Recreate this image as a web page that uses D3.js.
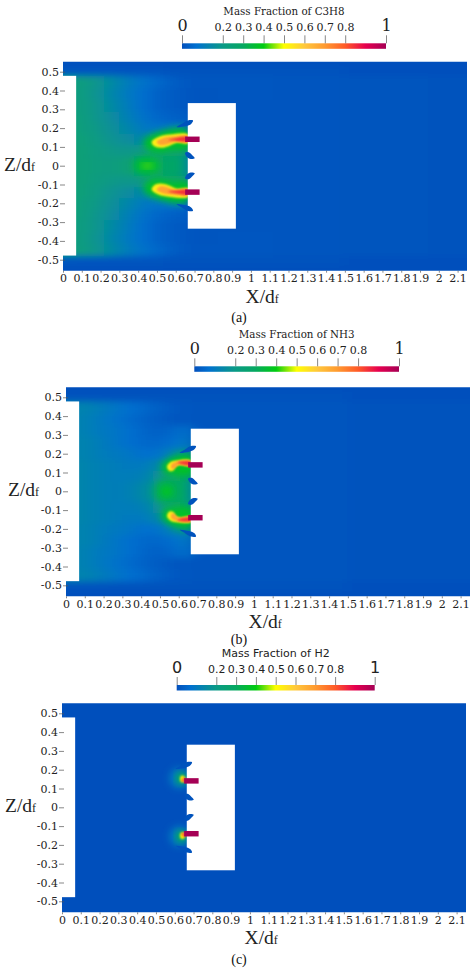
<!DOCTYPE html>
<html>
<head>
<meta charset="utf-8">
<script src="https://cdn.jsdelivr.net/npm/d3@7"></script>
<style>
  body { margin: 0; background: #fff; }
  svg { display: block; }
</style>
</head>
<body>
<div id="chart"></div>
<script>
//////// DATA ////////

var xTicks = [0, 0.1, 0.2, 0.3, 0.4, 0.5, 0.6, 0.7, 0.8, 0.9, 1, 1.1, 1.2, 1.3, 1.4, 1.5, 1.6, 1.7, 1.8, 1.9, 2, 2.1];
var zTicks = [0.5, 0.4, 0.3, 0.2, 0.1, 0, -0.1, -0.2, -0.3, -0.4, -0.5];
var barTicks = [0, 0.2, 0.3, 0.4, 0.5, 0.6, 0.7, 0.8, 1];

var colorValues = [0, 0.07, 0.2, 0.3, 0.4, 0.5, 0.6, 0.7, 0.8, 0.9, 1];
var colorNames = ["#0450bc", "#0070d0", "#0a9a86", "#06a860", "#00cc10", "#ffff00", "#ffc83c", "#ff9a30", "#ff5a28", "#e6004f", "#a50055"];

// field stations, upper half only, the lower half is a mirror of it
var fieldX = [0.05, 0.1, 0.18, 0.26, 0.34, 0.42, 0.5, 0.58, 0.64, 0.7, 0.95, 1.3, 1.7, 2.2];
var fieldZ = [0.55, 0.51, 0.446, 0.38, 0.32, 0.26, 0.2, 0.14, 0.08, 0.02];

var fieldA = [
  [0, 0, 0, 0, 0, 0, 0, 0, 0, 0, 0, 0, 0, 0],
  [0.01, 0.01, 0.01, 0.01, 0.01, 0.01, 0.01, 0.005, 0.005, 0.005, 0.005, 0.005, 0, 0],
  [0.23, 0.22, 0.19, 0.15, 0.11, 0.08, 0.05, 0.03, 0.02, 0.015, 0.015, 0.012, 0.008, 0.005],
  [0.23, 0.22, 0.18, 0.14, 0.1, 0.07, 0.04, 0.025, 0.02, 0.012, 0.015, 0.012, 0.008, 0.005],
  [0.23, 0.22, 0.19, 0.15, 0.11, 0.07, 0.04, 0.025, 0.02, 0.012, 0.012, 0.01, 0.008, 0.005],
  [0.24, 0.23, 0.19, 0.16, 0.12, 0.08, 0.05, 0.035, 0.03, 0.012, 0.012, 0.01, 0.008, 0.005],
  [0.24, 0.23, 0.2, 0.17, 0.14, 0.1, 0.08, 0.08, 0.07, 0.012, 0.012, 0.01, 0.008, 0.005],
  [0.24, 0.24, 0.21, 0.18, 0.16, 0.14, 0.16, 0.2, 0.22, 0.012, 0.012, 0.01, 0.008, 0.005],
  [0.25, 0.24, 0.22, 0.2, 0.19, 0.21, 0.24, 0.26, 0.27, 0.012, 0.012, 0.01, 0.008, 0.005],
  [0.25, 0.24, 0.23, 0.22, 0.24, 0.3, 0.27, 0.29, 0.3, 0.012, 0.012, 0.01, 0.008, 0.005]
];

var fieldB = [
  [0, 0, 0, 0, 0, 0, 0, 0, 0, 0, 0, 0, 0, 0],
  [0.005, 0.005, 0.005, 0.005, 0.005, 0.005, 0.005, 0.005, 0.005, 0.005, 0.005, 0.005, 0, 0],
  [0.13, 0.13, 0.11, 0.09, 0.07, 0.05, 0.03, 0.02, 0.015, 0.01, 0.01, 0.01, 0.005, 0.005],
  [0.13, 0.12, 0.1, 0.08, 0.06, 0.04, 0.025, 0.015, 0.015, 0.01, 0.01, 0.01, 0.005, 0.005],
  [0.13, 0.12, 0.1, 0.09, 0.07, 0.045, 0.035, 0.05, 0.08, 0.01, 0.01, 0.01, 0.005, 0.005],
  [0.13, 0.13, 0.11, 0.09, 0.07, 0.05, 0.05, 0.07, 0.1, 0.01, 0.01, 0.01, 0.005, 0.005],
  [0.13, 0.13, 0.11, 0.1, 0.09, 0.07, 0.08, 0.14, 0.18, 0.01, 0.01, 0.01, 0.005, 0.005],
  [0.14, 0.13, 0.12, 0.11, 0.1, 0.1, 0.15, 0.25, 0.3, 0.01, 0.01, 0.01, 0.005, 0.005],
  [0.14, 0.13, 0.12, 0.11, 0.11, 0.12, 0.19, 0.28, 0.32, 0.01, 0.01, 0.01, 0.005, 0.005],
  [0.14, 0.13, 0.12, 0.11, 0.12, 0.15, 0.22, 0.29, 0.32, 0.01, 0.01, 0.01, 0.005, 0.005]
];

var fieldC = [
  [0, 0, 0, 0, 0, 0, 0, 0, 0, 0, 0, 0, 0, 0],
  [0, 0, 0, 0, 0, 0, 0, 0, 0, 0, 0, 0, 0, 0],
  [0, 0, 0, 0, 0, 0, 0, 0, 0, 0, 0, 0, 0, 0],
  [0, 0, 0, 0, 0, 0, 0, 0, 0, 0, 0, 0, 0, 0],
  [0, 0, 0, 0, 0, 0, 0, 0, 0, 0, 0, 0, 0, 0],
  [0, 0, 0, 0, 0, 0, 0, 0, 0, 0, 0, 0, 0, 0],
  [0, 0, 0, 0, 0, 0, 0, 0, 0, 0, 0, 0, 0, 0],
  [0, 0, 0, 0, 0, 0, 0, 0, 0, 0, 0, 0, 0, 0],
  [0, 0, 0, 0, 0, 0, 0, 0, 0, 0, 0, 0, 0, 0],
  [0, 0, 0, 0, 0, 0, 0, 0, 0, 0, 0, 0, 0, 0]
];

// contour outlines of the upper plume as [x, z], lower one is mirrored
var plumeValuesA = [0.37, 0.53, 0.68, 0.84];
var plumeShapesA = [
  [[0.428, 0.128], [0.499, 0.175], [0.658, 0.195], [0.67, 0.085], [0.587, 0.085], [0.516, 0.068], [0.454, 0.082]],
  [[0.472, 0.128], [0.507, 0.153], [0.57, 0.166], [0.665, 0.166], [0.667, 0.12], [0.605, 0.122], [0.561, 0.104], [0.516, 0.095], [0.482, 0.106]],
  [[0.498, 0.128], [0.534, 0.148], [0.596, 0.156], [0.665, 0.156], [0.665, 0.128], [0.596, 0.128], [0.552, 0.113], [0.516, 0.11]],
  [[0.561, 0.137], [0.605, 0.148], [0.665, 0.152], [0.665, 0.13], [0.605, 0.132]]
];
var plumeValuesB = [0.37, 0.53, 0.68, 0.84];
var plumeShapesB = [
  [[0.51, 0.132], [0.554, 0.176], [0.664, 0.194], [0.67, 0.088], [0.572, 0.088], [0.527, 0.097]],
  [[0.537, 0.132], [0.554, 0.155], [0.589, 0.164], [0.664, 0.164], [0.664, 0.134], [0.607, 0.14], [0.582, 0.132], [0.572, 0.11], [0.55, 0.108]],
  [[0.56, 0.143], [0.58, 0.155], [0.664, 0.159], [0.664, 0.137], [0.598, 0.14], [0.58, 0.122], [0.563, 0.118]],
  [[0.592, 0.154], [0.664, 0.158], [0.664, 0.14], [0.616, 0.144]]
];
var plumeValuesC = [];
var plumeShapesC = [];

// round spots as [x, z, radius x, radius z, value, mirrored]
var spotsA = [[0.449, 0, 0.07, 0.045, 0.36, 0], [0.449, 0, 0.027, 0.012, 0.44, 0]];
var spotsB = [[0.536, 0, 0.07, 0.065, 0.31, 0], [0.536, 0, 0.032, 0.032, 0.38, 0]];
var spotsC = [
  [0.625, 0.155, 0.055, 0.055, 0.1, 1],
  [0.635, 0.155, 0.026, 0.03, 0.33, 1],
  [0.641, 0.151, 0.013, 0.018, 0.5, 1],
  [0.65, 0.145, 0.014, 0.012, 0.78, 1]
];

var inletX = [0.65, 0.727];
var inletZ = [0.126, 0.155];
var duct = { x: [0, 0.07], z: [-0.478, 0.478] };
var block = { x: [0.664, 0.92], z: [-0.335, 0.333] };

var finShapes = [
  [[0.605, 0.205], [0.635, 0.224], [0.665, 0.241], [0.692, 0.24], [0.682, 0.222], [0.655, 0.211]],
  [[0.65, 0.068], [0.668, 0.072], [0.692, 0.052], [0.701, 0.04], [0.68, 0.036], [0.658, 0.048]]
];

//////// DRAWING ////////

var svg = d3.select("#chart").append("svg").attr("width", 474).attr("height", 971);
var defs = svg.append("defs");

function addBlur(id, amount) {
  defs.append("filter").attr("id", id)
    .attr("x", "-30%").attr("y", "-30%").attr("width", "160%").attr("height", "160%")
    .append("feGaussianBlur").attr("stdDeviation", amount);
}
addBlur("blurField", "8 3");
addBlur("blurHalo", 3.5);
addBlur("blurCore", 0.8);
addBlur("blurEdge", 0.4);

var colorScale = d3.scaleLinear().domain(colorValues).range(colorNames).clamp(true);

var gradient = defs.append("linearGradient").attr("id", "barGradient");
colorValues.forEach(function (v, i) {
  gradient.append("stop").attr("offset", v).attr("stop-color", colorNames[i]);
});

function drawPanel(p) {
  var xScale = d3.scaleLinear().domain([0, 2.15]).range([p.x0, p.x0 + 404]);
  var zScale = d3.scaleLinear().domain([0.5, -0.5]).range([p.z0 - 94, p.z0 + 94]);
  var top = p.z0 - 104, bottom = p.z0 + 105;
  var g = svg.append("g");

  defs.append("clipPath").attr("id", "clip" + p.id).append("rect")
    .attr("x", p.x0).attr("y", top)
    .attr("width", 404).attr("height", bottom - top);

  var plot = g.append("g").attr("clip-path", "url(#clip" + p.id + ")");

  // background field, mirrored about z = 0
  var fieldG = plot.append("g").attr("filter", "url(#blurField)");
  fieldG.append("rect").attr("x", p.x0 - 40).attr("y", top - 40)
    .attr("width", 484).attr("height", bottom - top + 80).attr("fill", colorScale(0));
  [1, -1].forEach(function (sign) {
    p.field.forEach(function (row, j) {
      var zHi = j === 0 ? 0.7 : (fieldZ[j] + fieldZ[j - 1]) / 2;
      var zLo = j === fieldZ.length - 1 ? 0 : (fieldZ[j] + fieldZ[j + 1]) / 2;
      row.forEach(function (v, i) {
        var xLo = i === 0 ? -0.2 : (fieldX[i] + fieldX[i - 1]) / 2;
        var xHi = i === fieldX.length - 1 ? 2.4 : (fieldX[i] + fieldX[i + 1]) / 2;
        var y1 = zScale(sign * zHi), y2 = zScale(sign * zLo);
        fieldG.append("rect")
          .attr("x", xScale(xLo))
          .attr("y", Math.min(y1, y2))
          .attr("width", xScale(xHi) - xScale(xLo))
          .attr("height", Math.abs(y2 - y1) + 0.5)
          .attr("fill", colorScale(v));
      });
    });
  });

  var outline = d3.line()
    .x(function (d) { return xScale(d[0]); })
    .y(function (d) { return zScale(d[1]); })
    .curve(d3.curveCatmullRomClosed);

  // spots
  p.spots.forEach(function (s) {
    (s[5] ? [1, -1] : [1]).forEach(function (sign) {
      plot.append("ellipse")
        .attr("cx", xScale(s[0])).attr("cy", zScale(sign * s[1]))
        .attr("rx", xScale(s[2]) - xScale(0))
        .attr("ry", zScale(0) - zScale(s[3]))
        .attr("fill", colorScale(s[4]))
        .attr("filter", s[2] > 0.02 ? "url(#blurHalo)" : "url(#blurCore)");
    });
  });

  // plume contours
  p.shapes.forEach(function (shape, k) {
    [1, -1].forEach(function (sign) {
      plot.append("path")
        .attr("d", outline(shape.map(function (d) { return [d[0], sign * d[1]]; })))
        .attr("fill", colorScale(p.values[k]))
        .attr("filter", k === 0 ? "url(#blurHalo)" : "url(#blurCore)");
    });
  });

  // white cut-outs
  [duct, block].forEach(function (b) {
    plot.append("rect")
      .attr("x", xScale(b.x[0])).attr("y", zScale(b.z[1]))
      .attr("width", xScale(b.x[1]) - xScale(b.x[0]))
      .attr("height", zScale(b.z[0]) - zScale(b.z[1]))
      .attr("fill", "#fff");
  });

  // fins and fuel inlets sit on top of the block
  [1, -1].forEach(function (sign) {
    finShapes.forEach(function (shape) {
      plot.append("path")
        .attr("d", outline(shape.map(function (d) { return [d[0], sign * d[1]]; })))
        .attr("fill", colorScale(0.005))
        .attr("filter", "url(#blurEdge)");
    });
    var y1 = zScale(sign * inletZ[0]), y2 = zScale(sign * inletZ[1]);
    plot.append("rect")
      .attr("x", xScale(inletX[0])).attr("y", Math.min(y1, y2))
      .attr("width", xScale(inletX[1]) - xScale(inletX[0]))
      .attr("height", Math.abs(y2 - y1))
      .attr("fill", colorScale(1))
      .attr("filter", "url(#blurEdge)");
  });

  // axes
  var xAxis = g.append("g").attr("transform", "translate(0," + bottom + ")")
    .call(d3.axisBottom(xScale).tickValues(xTicks).tickSize(2).tickPadding(2).tickFormat(String));
  var zAxis = g.append("g").attr("transform", "translate(" + (p.x0 + 2) + ",0)")
    .call(d3.axisLeft(zScale).tickValues(zTicks).tickSize(5).tickPadding(1).tickFormat(String));
  [xAxis, zAxis].forEach(function (a) {
    a.select(".domain").remove();
    a.selectAll("line").attr("stroke", "#555").attr("stroke-width", 0.7);
    a.selectAll("text").attr("font-family", "DejaVu Serif").attr("font-size", 11).attr("fill", "#222");
  });

  // axis titles
  function axisTitle(letter, x, y, anchor) {
    var t = g.append("text").attr("x", x).attr("y", y).attr("text-anchor", anchor)
      .attr("font-family", "Liberation Serif").attr("font-size", 19.5).attr("fill", "#222");
    t.append("tspan").text(letter + "/d");
    t.append("tspan").attr("font-size", 12).text("f");
  }
  axisTitle("X", xScale(1.06), bottom + 32, "middle");
  axisTitle("Z", p.zTitleX, p.z0 + 5, "start");

  // colour bar
  var barScale = d3.scaleLinear().domain([0, 1]).range(p.bar);
  g.append("rect")
    .attr("x", p.bar[0]).attr("y", p.barY)
    .attr("width", p.bar[1] - p.bar[0]).attr("height", 5.5)
    .attr("fill", "url(#barGradient)");
  var barAxis = g.append("g").attr("transform", "translate(0," + p.barY + ")")
    .call(d3.axisTop(barScale).tickValues(barTicks).tickSize(8).tickPadding(4).tickFormat(String));
  barAxis.select(".domain").remove();
  barAxis.selectAll("line").attr("stroke", "#555").attr("stroke-width", 0.7);
  barAxis.selectAll("text")
    .attr("font-family", p.barFont)
    .attr("font-size", function (d) { return d === 0 || d === 1 ? 16 : 11; })
    .attr("fill", "#222");

  g.append("text")
    .attr("x", (p.bar[0] + p.bar[1]) / 2).attr("y", p.barY - 28)
    .attr("text-anchor", "middle")
    .attr("font-family", p.barFont).attr("font-size", p.titleSize).attr("fill", "#222")
    .text(p.title);

  g.append("text")
    .attr("x", 239).attr("y", p.captionY).attr("text-anchor", "middle")
    .attr("font-family", "Liberation Serif").attr("font-size", 14).attr("fill", "#111")
    .text(p.caption);
}

drawPanel({
  id: "A", x0: 63, z0: 165.7, field: fieldA, shapes: plumeShapesA, values: plumeValuesA, spots: spotsA,
  bar: [182, 386], barY: 43.3, barFont: "DejaVu Serif", titleSize: 10.3, title: "Mass Fraction of C3H8",
  caption: "(a)", captionY: 322, zTitleX: 4
});
drawPanel({
  id: "B", x0: 66, z0: 491.3, field: fieldB, shapes: plumeShapesB, values: plumeValuesB, spots: spotsB,
  bar: [194.3, 399], barY: 366.3, barFont: "DejaVu Serif", titleSize: 10.3, title: "Mass Fraction of NH3",
  caption: "(b)", captionY: 643.5, zTitleX: 8
});
drawPanel({
  id: "C", x0: 62, z0: 807.3, field: fieldC, shapes: plumeShapesC, values: plumeValuesC, spots: spotsC,
  bar: [176.7, 374.7], barY: 685, barFont: "DejaVu Sans", titleSize: 11, title: "Mass Fraction of H2",
  caption: "(c)", captionY: 964, zTitleX: 5
});
</script>
</body>
</html>
